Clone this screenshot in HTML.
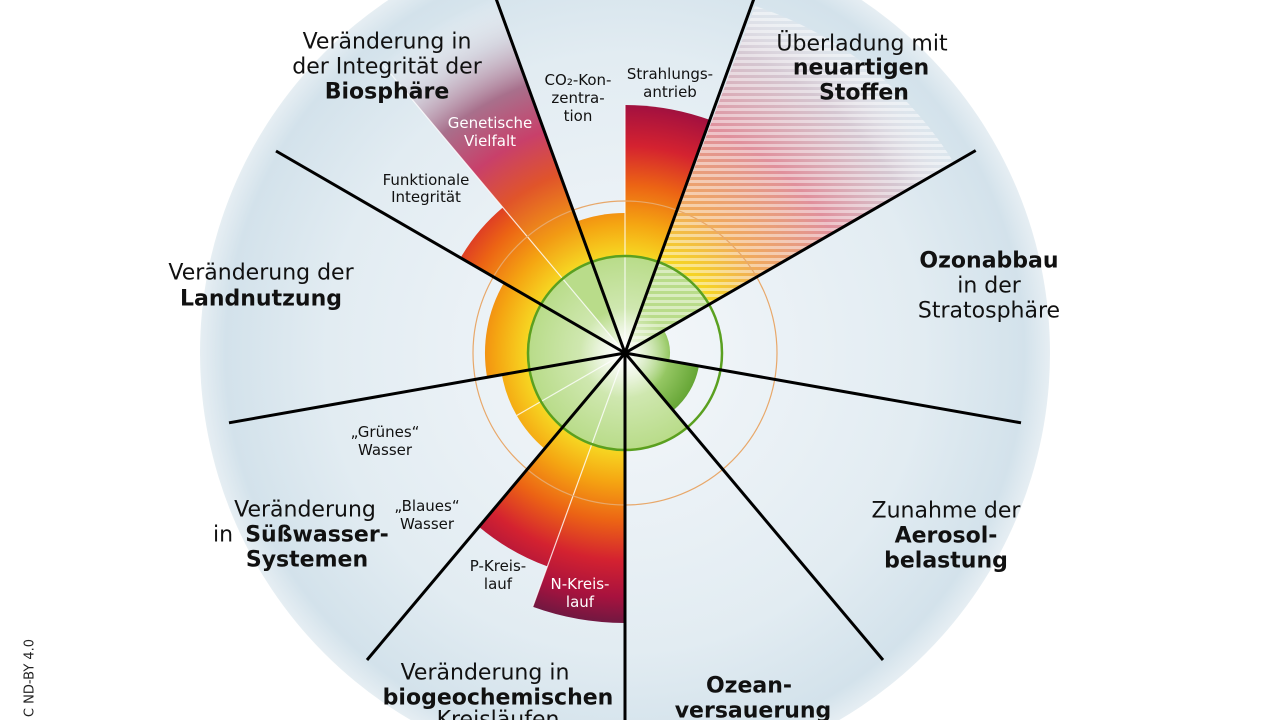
<!DOCTYPE html>
<html><head><meta charset="utf-8"><style>
html,body{margin:0;padding:0;background:#fff;width:1280px;height:720px;overflow:hidden}
svg{display:block}
text{font-family:"DejaVu Sans","Liberation Sans",sans-serif;dominant-baseline:central;text-anchor:middle}
.b{font-size:22px;fill:#111}
.s{font-size:15px;fill:#111}
.bold{font-weight:bold}
</style></head><body>
<svg width="1280" height="720" viewBox="0 0 1280 720" xmlns="http://www.w3.org/2000/svg">
<defs>
<radialGradient id="globe" cx="625" cy="353" r="425" gradientUnits="userSpaceOnUse">
<stop offset="0" stop-color="#f4f7fa"/><stop offset="0.7" stop-color="#e2ecf2"/>
<stop offset="0.94" stop-color="#d3e2eb"/><stop offset="1" stop-color="#e6eef3"/>
</radialGradient>
<radialGradient id="main" cx="625" cy="353" r="280" gradientUnits="userSpaceOnUse">
<stop offset="0" stop-color="#eef4ea"/><stop offset="0.12" stop-color="#d4eab8"/>
<stop offset="0.34" stop-color="#b9dc8a"/><stop offset="0.35" stop-color="#f6d622"/>
<stop offset="0.46" stop-color="#f5a612"/><stop offset="0.6" stop-color="#ec6414"/>
<stop offset="0.74" stop-color="#d42230"/><stop offset="0.87" stop-color="#a8123e"/>
<stop offset="1" stop-color="#5c1a42"/>
</radialGradient>
<radialGradient id="gen" cx="625" cy="353" r="380" gradientUnits="userSpaceOnUse">
<stop offset="0.255" stop-color="#b9dc8a"/><stop offset="0.26" stop-color="#f6d622"/>
<stop offset="0.36" stop-color="#f29a14"/><stop offset="0.5" stop-color="#e0542a"/>
<stop offset="0.62" stop-color="#c8406a"/><stop offset="0.75" stop-color="#a8708c"/>
<stop offset="0.88" stop-color="#d0c8d4" stop-opacity="0.6"/><stop offset="1" stop-color="#ffffff" stop-opacity="0"/>
</radialGradient>
<radialGradient id="nov" cx="625" cy="353" r="400" gradientUnits="userSpaceOnUse">
<stop offset="0.24" stop-color="#b9dc8a"/><stop offset="0.25" stop-color="#f6d622"/>
<stop offset="0.4" stop-color="#f0a860"/><stop offset="0.6" stop-color="#e0909c"/>
<stop offset="0.8" stop-color="#d0b8c4" stop-opacity="0.7"/><stop offset="1" stop-color="#ffffff" stop-opacity="0"/>
</radialGradient>
<radialGradient id="dg" cx="625" cy="353" r="80" gradientUnits="userSpaceOnUse">
<stop offset="0" stop-color="#d4eab8"/><stop offset="0.5" stop-color="#9ccc6a"/><stop offset="1" stop-color="#5ea02e"/>
</radialGradient>
<radialGradient id="glow" cx="625" cy="353" r="45" gradientUnits="userSpaceOnUse">
<stop offset="0" stop-color="#ffffff" stop-opacity="1"/><stop offset="1" stop-color="#ffffff" stop-opacity="0"/>
</radialGradient>
<pattern id="stripes" width="10" height="6" patternUnits="userSpaceOnUse">
<rect width="10" height="3" fill="#ffffff" opacity="0.45"/>
</pattern>
</defs>
<rect width="1280" height="720" fill="#fff"/>
<circle cx="625" cy="353" r="425" fill="url(#globe)"/>
<path d="M625 353 L755 6 A370 370 0 0 1 954.1 163 Z" fill="url(#nov)"/>
<path d="M625 353 L755 6 A370 370 0 0 1 954.1 163 Z" fill="url(#stripes)"/>
<path d="M625 353 L380.7 62 A380 380 0 0 1 495 -4.2 Z" fill="url(#gen)"/>
<path d="M625 353 L577.1 221.4 A140 140 0 0 1 625 213 Z" fill="url(#main)"/>
<path d="M625 353 L625 105 A248 248 0 0 1 709.8 119.9 Z" fill="url(#main)"/>
<path d="M625 353 L664 330.5 A45 45 0 0 1 669.3 360.8 Z" fill="url(#dg)"/>
<path d="M625 353 L698.9 366 A75 75 0 0 1 673.2 410.5 Z" fill="url(#dg)"/>
<path d="M625 353 L687.4 427.3 A97 97 0 0 1 625 450 Z" fill="url(#main)"/>
<path d="M625 353 L625 623 A270 270 0 0 1 532.7 606.8 Z" fill="url(#main)"/>
<path d="M625 353 L547.4 566.4 A227 227 0 0 1 479 526.9 Z" fill="url(#main)"/>
<path d="M625 353 L544.6 448.8 A125 125 0 0 1 501.9 374.75 Z" fill="url(#main)"/>
<path d="M625 353 L487.1 377.4 A140 140 0 0 1 503.8 283 Z" fill="url(#main)"/>
<path d="M625 353 L460.5 258 A190 190 0 0 1 502.8 207.5 Z" fill="url(#main)"/>
<g stroke="#fff" stroke-width="1.2" opacity="0.8">
<line x1="625" y1="353" x2="625" y2="105"/>
<line x1="625" y1="353" x2="380.7" y2="62"/>
<line x1="625" y1="353" x2="532.7" y2="606.8"/>
<line x1="625" y1="353" x2="516.75" y2="415.5"/>
</g>
<circle cx="625" cy="353" r="152" fill="none" stroke="#e8a86a" stroke-width="1.2"/>
<circle cx="625" cy="353" r="97" fill="none" stroke="#5aa020" stroke-width="2.5"/>
<circle cx="625" cy="353" r="45" fill="url(#glow)"/>
<g stroke="#000" stroke-width="3">
<line x1="625" y1="353" x2="763.5" y2="-27.6"/>
<line x1="625" y1="353" x2="975.7" y2="150.5"/>
<line x1="625" y1="353" x2="1021" y2="422.8"/>
<line x1="625" y1="353" x2="883" y2="660"/>
<line x1="625" y1="353" x2="625" y2="720"/>
<line x1="625" y1="353" x2="367" y2="660"/>
<line x1="625" y1="353" x2="229" y2="422.8"/>
<line x1="625" y1="353" x2="276" y2="151"/>
<line x1="625" y1="353" x2="486.5" y2="-27.6"/>
</g>
<text class="b" x="387" y="42">Veränderung in</text>
<text class="b" x="387" y="67">der Integrität der</text>
<text class="b bold" x="387" y="92">Biosphäre</text>
<text class="b" x="862" y="44">Überladung mit</text>
<text class="b bold" x="861" y="68">neuartigen</text>
<text class="b bold" x="864" y="93">Stoffen</text>
<text class="b bold" x="989" y="261">Ozonabbau</text>
<text class="b" x="989" y="286">in der</text>
<text class="b" x="989" y="311">Stratosphäre</text>
<text class="b" x="946" y="511">Zunahme der</text>
<text class="b bold" x="946" y="536">Aerosol-</text>
<text class="b bold" x="946" y="561">belastung</text>
<text class="b bold" x="749" y="686">Ozean-</text>
<text class="b bold" x="753" y="711">versauerung</text>
<text class="b" x="485" y="673">Veränderung in</text>
<text class="b bold" x="498" y="698">biogeochemischen</text>
<text class="b" x="498" y="720">Kreisläufen</text>
<text class="b" x="305" y="510">Veränderung</text>
<text class="b" x="223" y="535">in</text>
<text class="b bold" x="317" y="535">Süßwasser-</text>
<text class="b bold" x="307" y="560">Systemen</text>
<text class="b" x="261" y="273">Veränderung der</text>
<text class="b bold" x="261" y="299">Landnutzung</text>
<text class="s" x="578" y="80">CO₂-Kon-</text>
<text class="s" x="578" y="98">zentra-</text>
<text class="s" x="578" y="116">tion</text>
<text class="s" x="670" y="74">Strahlungs-</text>
<text class="s" x="670" y="92">antrieb</text>
<text class="s" x="490" y="123" style="fill:#fff">Genetische</text>
<text class="s" x="490" y="141" style="fill:#fff">Vielfalt</text>
<text class="s" x="426" y="180">Funktionale</text>
<text class="s" x="426" y="197">Integrität</text>
<text class="s" x="385" y="432">„Grünes“</text>
<text class="s" x="385" y="450">Wasser</text>
<text class="s" x="427" y="506">„Blaues“</text>
<text class="s" x="427" y="524">Wasser</text>
<text class="s" x="498" y="566">P-Kreis-</text>
<text class="s" x="498" y="584">lauf</text>
<text class="s" x="580" y="584" style="fill:#fff">N-Kreis-</text>
<text class="s" x="580" y="602" style="fill:#fff">lauf</text>
<text x="30" y="678" transform="rotate(-90 30 678)" style="font-size:13px;fill:#222">C ND-BY 4.0</text>
</svg>
</body></html>
